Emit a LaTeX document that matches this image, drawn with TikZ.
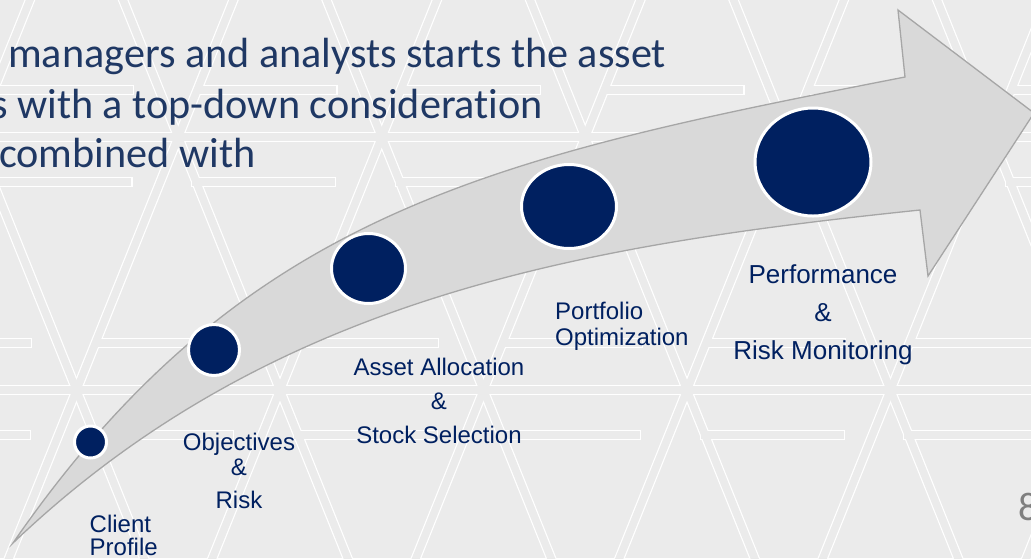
\documentclass[tikz,border=0pt]{standalone}
\usepackage{fontspec}
\setmainfont{Liberation Sans}
\newfontfamily\slidefont[Ligatures=NoCommon]{Carlito}
\usepackage{xcolor}
\definecolor{SlideGray}{RGB}{235,235,235}
\definecolor{StageBlue}{RGB}{0,32,96}
\definecolor{IntroBlue}{RGB}{31,56,100}
\definecolor{ArrowGray}{RGB}{217,217,217}
\definecolor{ArrowEdge}{RGB}{166,166,166}
\definecolor{PageGray}{RGB}{127,127,127}
\usepackage{tikz}
\usetikzlibrary{shapes.geometric}

\tikzset{
	stage/.style={ellipse, fill=StageBlue, draw=white, line width=3pt, inner sep=0pt},
	stagelabel/.style={text=StageBlue, inner sep=0pt, anchor=base},
	intro/.style={text=IntroBlue, inner sep=0pt, anchor=base west, font=\slidefont\fontsize{42.2}{50}\selectfont},
}

\begin{document}
\begin{tikzpicture}[x=1pt, y=-1pt]
			% Fondo
			\fill[SlideGray] (0,0) rectangle (1031,558);
			\useasboundingbox (0,0) rectangle (1031,558);
			% Trama blanca: primero trazo ancho blanco, luego trazo gris encima
			\begin{scope}
				\clip (0,0) rectangle (1031,558);
				\foreach \w/\col in {10/white, 7.6/SlideGray} {
					\begin{scope}[line width=\w pt, draw=\col, line cap=rect]
						\foreach \c in {-80.4, 123.1, 326.6, 530.1, 733.6, 937.1}
							\draw (\c-4,-10) -- (\c+228.4,568);
						\foreach \c in {29.9, 233.4, 436.9, 640.4, 843.9, 1047.4, 1250.9}
							\draw (\c+4,-10) -- (\c-228.4,568);
						\foreach \cy/\off in {-116/279.75, 137/178, 390/279.75, 643/178} {
							\draw (-20,\cy) -- (1051,\cy);
							\foreach \k in {-2,...,5} {
								\draw ({\off+\k*203.5+18},{\cy+45}) -- ({\off+\k*203.5+153},{\cy+45});
								\draw ({\off+\k*203.5-49},{\cy-47}) -- ({\off+\k*203.5-179},{\cy-47});
							}
						}
					\end{scope}
				}
			\end{scope}
			% Texto superior
			\node[intro] (intro1) at (8,67) {managers and analysts starts the asset};
			\node[intro] (intro2) at (-9,118) {s with a top-down consideration};
			\node[intro] (intro3) at (-1,167) {combined with};
			% Flecha curva
			\draw[fill=ArrowGray, draw=ArrowEdge, line width=1.3pt, line join=miter]
				(13,543) .. controls (243,210) and (495,157) .. (905,77)
				-- (898,10) -- (1034,113) -- (928,276) -- (920,210)
				.. controls (590,244.5) and (274,294) .. (13,543) -- cycle;
			% Etapas
			\node[stage, minimum width=32pt, minimum height=32pt] (client) at (90.5,442) {};
			\node[stage, minimum width=51pt, minimum height=51pt] (objectives) at (214,350) {};
			\node[stage, minimum width=74pt, minimum height=70pt] (allocation) at (368.5,268.5) {};
			\node[stage, minimum width=95pt, minimum height=84pt] (portfolio) at (569,206.5) {};
			\node[stage, minimum width=116pt, minimum height=108pt] (performance) at (813,162) {};
			% Etiquetas (la base es la de la ultima linea)
			\node[stagelabel, align=left, anchor=base west, font=\fontsize{24}{23}\selectfont] (clientlbl) at (89.5,555) {Client\\Profile};
			\node[stagelabel, align=center, font=\fontsize{24}{25}\selectfont] (objectiveslbl) at (239,508) {Objectives\\\&\\[8pt]Risk};
			\node[stagelabel, align=center, font=\fontsize{24}{34}\selectfont] (allocationlbl) at (439,443) {Asset Allocation\\\&\\Stock Selection};
			\node[stagelabel, align=left, anchor=base west, font=\fontsize{24}{26}\selectfont] (portfoliolbl) at (555,345) {Portfolio\\Optimization};
			\node[stagelabel, align=center, font=\fontsize{26}{38}\selectfont] (performancelbl) at (823,359) {Performance\\\&\\Risk Monitoring};
			% Numero de pagina
			\node[text=PageGray, inner sep=0pt, anchor=base west, font=\slidefont\fontsize{40}{40}\selectfont] (pagenum) at (1018,520) {8};
\end{tikzpicture}
\end{document}
